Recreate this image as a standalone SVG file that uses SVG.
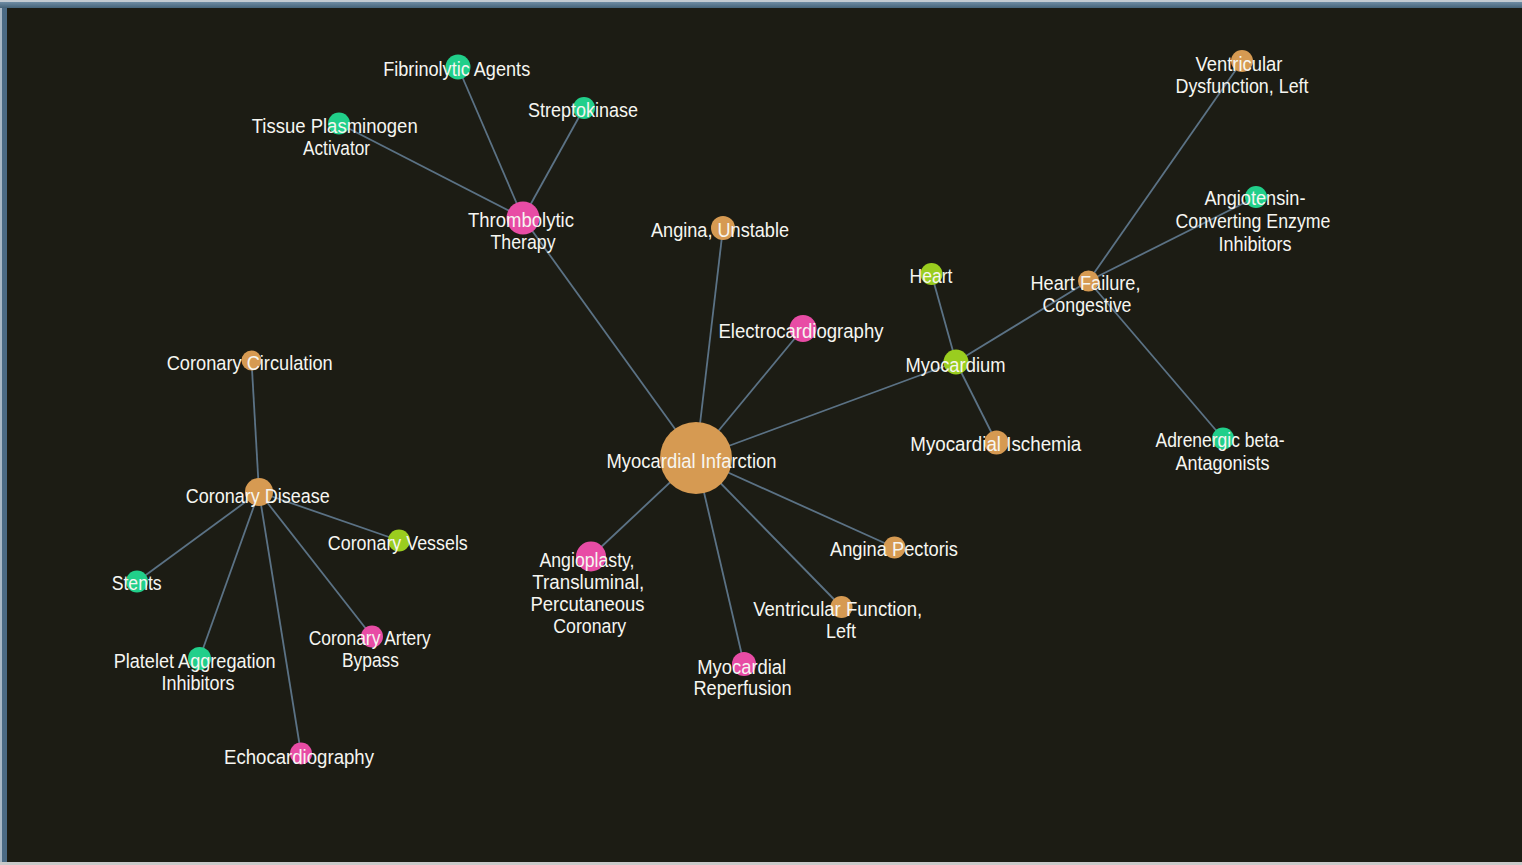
<svg xmlns="http://www.w3.org/2000/svg" width="1522" height="865" viewBox="0 0 1522 865">
<defs>
<linearGradient id="topbar" x1="0" y1="0" x2="0" y2="1">
<stop offset="0" stop-color="#6e8ca4"/>
<stop offset="1" stop-color="#456379"/>
</linearGradient>
<style>
.e{stroke:#5b7285;stroke-width:1.8;fill:none}
.tan{fill:#d69a52}
.pink{fill:#e84ca5}
.green{fill:#21cf8a}
.lime{fill:#9acd1f}
text{font-family:"Liberation Sans",Arial,sans-serif;font-size:20.5px;fill:#f6f6f1;text-anchor:middle}
</style>
</defs>
<rect x="0" y="0" width="1522" height="865" fill="#1c1c14"/>
<rect x="0" y="0" width="1522" height="2" fill="#c3cbd2"/>
<rect x="0" y="2" width="1522" height="6" fill="url(#topbar)"/>
<rect x="0" y="8" width="2" height="857" fill="#a9b8c6"/>
<rect x="2" y="8" width="5" height="857" fill="#4b6a84"/>
<rect x="0" y="862" width="1522" height="3" fill="#c9c9c9"/>
<g id="connectors">
<line class="e" x1="696" y1="458" x2="523" y2="218"/>
<line class="e" x1="696" y1="458" x2="723" y2="228"/>
<line class="e" x1="696" y1="458" x2="803" y2="328.5"/>
<line class="e" x1="696" y1="458" x2="956" y2="362"/>
<line class="e" x1="696" y1="458" x2="894.5" y2="547.5"/>
<line class="e" x1="696" y1="458" x2="841.5" y2="607"/>
<line class="e" x1="696" y1="458" x2="744" y2="664"/>
<line class="e" x1="696" y1="458" x2="591" y2="556.5"/>
<line class="e" x1="523" y1="218" x2="458" y2="67"/>
<line class="e" x1="523" y1="218" x2="584" y2="108"/>
<line class="e" x1="523" y1="218" x2="339" y2="123.5"/>
<line class="e" x1="956" y1="362" x2="931.5" y2="274"/>
<line class="e" x1="956" y1="362" x2="1088.5" y2="281"/>
<line class="e" x1="956" y1="362" x2="996.5" y2="442.5"/>
<line class="e" x1="1088.5" y1="281" x2="1242" y2="61"/>
<line class="e" x1="1088.5" y1="281" x2="1256" y2="197"/>
<line class="e" x1="1088.5" y1="281" x2="1223" y2="438.5"/>
<line class="e" x1="259" y1="492" x2="251.5" y2="360.5"/>
<line class="e" x1="259" y1="492" x2="399" y2="540.5"/>
<line class="e" x1="259" y1="492" x2="137" y2="581.5"/>
<line class="e" x1="259" y1="492" x2="199.5" y2="658.5"/>
<line class="e" x1="259" y1="492" x2="372" y2="636.5"/>
<line class="e" x1="259" y1="492" x2="301" y2="753.5"/>
</g>
<g id="n-myocardial-infarction"><circle class="tan" cx="696" cy="458" r="36"/><text x="691.5" y="468" textLength="170" lengthAdjust="spacingAndGlyphs">Myocardial Infarction</text></g>
<g id="n-thrombolytic-therapy"><circle class="pink" cx="523" cy="218" r="16.5"/><text x="521" y="227" textLength="106" lengthAdjust="spacingAndGlyphs">Thrombolytic</text><text x="523" y="249" textLength="65" lengthAdjust="spacingAndGlyphs">Therapy</text></g>
<g id="n-fibrinolytic-agents"><circle class="green" cx="458" cy="67" r="12.5"/><text x="456.7" y="76" textLength="147" lengthAdjust="spacingAndGlyphs">Fibrinolytic Agents</text></g>
<g id="n-streptokinase"><circle class="green" cx="584" cy="108" r="11"/><text x="583" y="117" textLength="110" lengthAdjust="spacingAndGlyphs">Streptokinase</text></g>
<g id="n-tissue-plasminogen-activator"><circle class="green" cx="339" cy="123.5" r="11"/><text x="334.7" y="132.5" textLength="166" lengthAdjust="spacingAndGlyphs">Tissue Plasminogen</text><text x="336.5" y="155" textLength="67" lengthAdjust="spacingAndGlyphs">Activator</text></g>
<g id="n-angina-unstable"><circle class="tan" cx="723" cy="228" r="12"/><text x="720" y="237" textLength="138" lengthAdjust="spacingAndGlyphs">Angina, Unstable</text></g>
<g id="n-electrocardiography"><circle class="pink" cx="803" cy="328.5" r="13.5"/><text x="801" y="337.5" textLength="165" lengthAdjust="spacingAndGlyphs">Electrocardiography</text></g>
<g id="n-myocardium"><circle class="lime" cx="956" cy="362" r="12.5"/><text x="955.5" y="372" textLength="100" lengthAdjust="spacingAndGlyphs">Myocardium</text></g>
<g id="n-heart"><circle class="lime" cx="931.5" cy="274" r="11"/><text x="931" y="282.5" textLength="43" lengthAdjust="spacingAndGlyphs">Heart</text></g>
<g id="n-heart-failure-congestive"><circle class="tan" cx="1088.5" cy="281" r="10.5"/><text x="1085.5" y="290" textLength="110" lengthAdjust="spacingAndGlyphs">Heart Failure,</text><text x="1087" y="312" textLength="89" lengthAdjust="spacingAndGlyphs">Congestive</text></g>
<g id="n-ventricular-dysfunction-left"><circle class="tan" cx="1242" cy="61" r="11"/><text x="1239" y="70.5" textLength="87" lengthAdjust="spacingAndGlyphs">Ventricular</text><text x="1242" y="92.5" textLength="133" lengthAdjust="spacingAndGlyphs">Dysfunction, Left</text></g>
<g id="n-ace-inhibitors"><circle class="green" cx="1256" cy="197" r="11"/><text x="1255" y="205" textLength="101" lengthAdjust="spacingAndGlyphs">Angiotensin-</text><text x="1253" y="228" textLength="155" lengthAdjust="spacingAndGlyphs">Converting Enzyme</text><text x="1255" y="250.5" textLength="73" lengthAdjust="spacingAndGlyphs">Inhibitors</text></g>
<g id="n-adrenergic-beta-antagonists"><circle class="green" cx="1223" cy="438.5" r="11"/><text x="1220" y="447" textLength="129" lengthAdjust="spacingAndGlyphs">Adrenergic beta-</text><text x="1222.5" y="469.5" textLength="94" lengthAdjust="spacingAndGlyphs">Antagonists</text></g>
<g id="n-myocardial-ischemia"><circle class="tan" cx="996.5" cy="442.5" r="12"/><text x="995.8" y="451" textLength="171" lengthAdjust="spacingAndGlyphs">Myocardial Ischemia</text></g>
<g id="n-angina-pectoris"><circle class="tan" cx="894.5" cy="547.5" r="11"/><text x="894" y="556" textLength="128" lengthAdjust="spacingAndGlyphs">Angina Pectoris</text></g>
<g id="n-ventricular-function-left"><circle class="tan" cx="841.5" cy="607" r="11"/><text x="837.7" y="616" textLength="169" lengthAdjust="spacingAndGlyphs">Ventricular Function,</text><text x="841" y="638" textLength="30" lengthAdjust="spacingAndGlyphs">Left</text></g>
<g id="n-myocardial-reperfusion"><circle class="pink" cx="744" cy="664" r="12"/><text x="741.7" y="673.5" textLength="89" lengthAdjust="spacingAndGlyphs">Myocardial</text><text x="742.5" y="695" textLength="98" lengthAdjust="spacingAndGlyphs">Reperfusion</text></g>
<g id="n-angioplasty"><circle class="pink" cx="591" cy="556.5" r="15"/><text x="587" y="567" textLength="95" lengthAdjust="spacingAndGlyphs">Angioplasty,</text><text x="588.3" y="589" textLength="112" lengthAdjust="spacingAndGlyphs">Transluminal,</text><text x="587.5" y="611" textLength="114" lengthAdjust="spacingAndGlyphs">Percutaneous</text><text x="589.7" y="633" textLength="73" lengthAdjust="spacingAndGlyphs">Coronary</text></g>
<g id="n-coronary-circulation"><circle class="tan" cx="251.5" cy="360.5" r="10"/><text x="249.7" y="369.5" textLength="166" lengthAdjust="spacingAndGlyphs">Coronary Circulation</text></g>
<g id="n-coronary-disease"><circle class="tan" cx="259" cy="492" r="14"/><text x="257.8" y="502.5" textLength="144" lengthAdjust="spacingAndGlyphs">Coronary Disease</text></g>
<g id="n-coronary-vessels"><circle class="lime" cx="399" cy="540.5" r="11"/><text x="397.8" y="549.5" textLength="140" lengthAdjust="spacingAndGlyphs">Coronary Vessels</text></g>
<g id="n-stents"><circle class="green" cx="137" cy="581.5" r="11"/><text x="136.7" y="590" textLength="50" lengthAdjust="spacingAndGlyphs">Stents</text></g>
<g id="n-platelet-aggregation-inhibitors"><circle class="green" cx="199.5" cy="658.5" r="11.5"/><text x="194.7" y="667.5" textLength="162" lengthAdjust="spacingAndGlyphs">Platelet Aggregation</text><text x="198" y="689.5" textLength="73" lengthAdjust="spacingAndGlyphs">Inhibitors</text></g>
<g id="n-coronary-artery-bypass"><circle class="pink" cx="372" cy="636.5" r="11"/><text x="369.7" y="645" textLength="122" lengthAdjust="spacingAndGlyphs">Coronary Artery</text><text x="370.5" y="667" textLength="57" lengthAdjust="spacingAndGlyphs">Bypass</text></g>
<g id="n-echocardiography"><circle class="pink" cx="301" cy="753.5" r="11"/><text x="299" y="763.5" textLength="150" lengthAdjust="spacingAndGlyphs">Echocardiography</text></g>
</svg>
